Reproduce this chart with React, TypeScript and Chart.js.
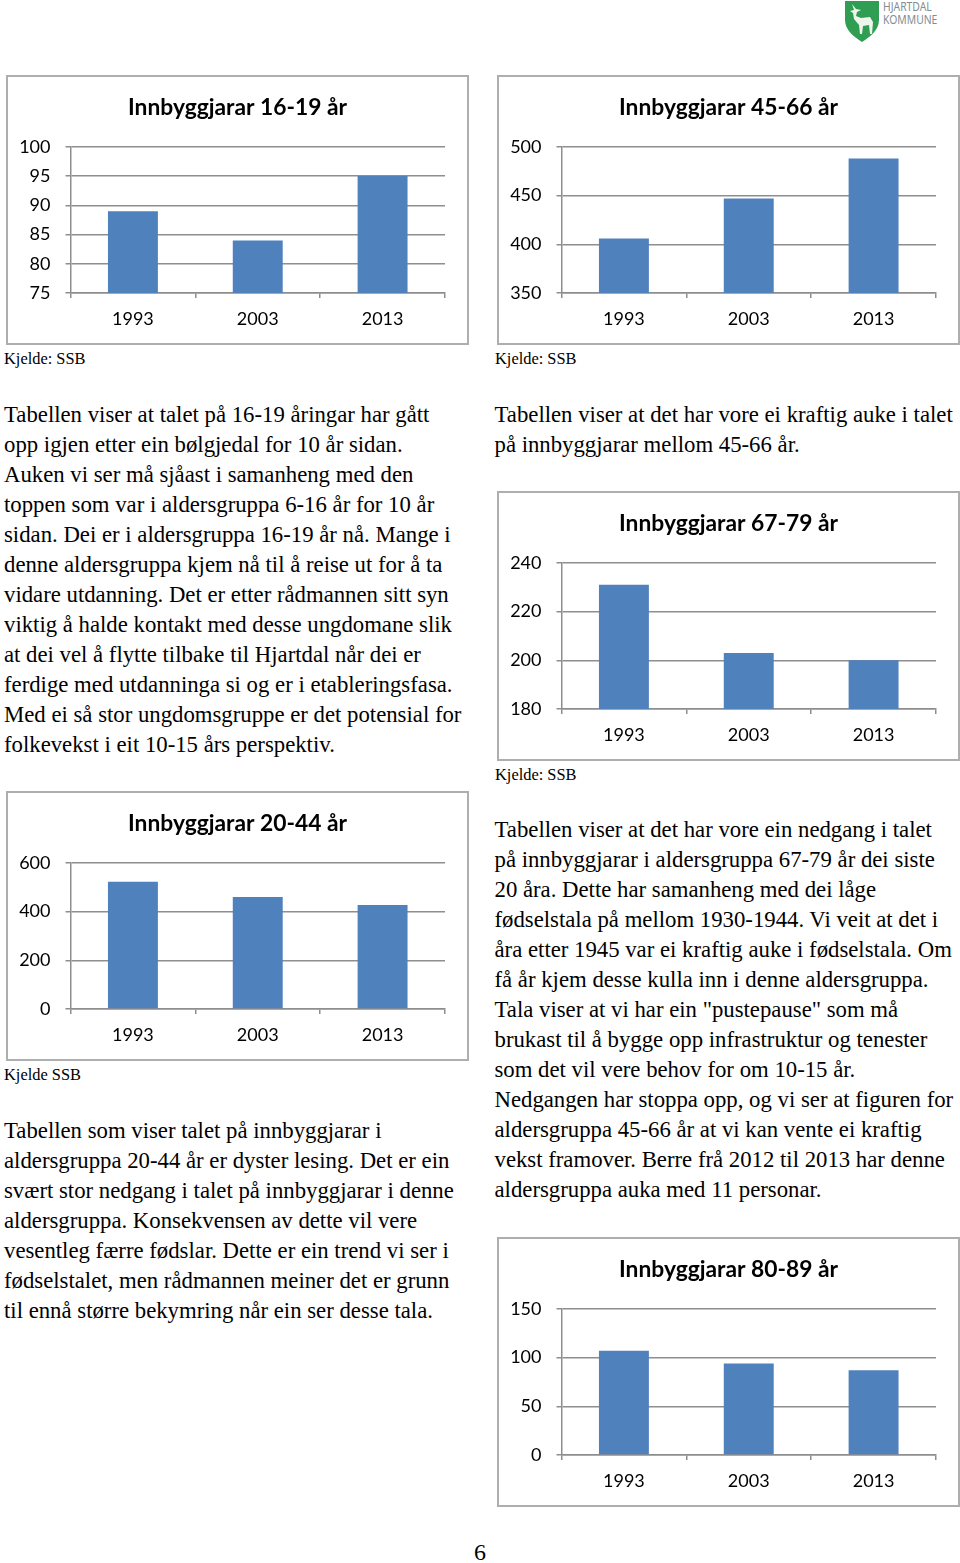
import React, { useEffect, useRef } from "react";
import { Chart, registerables } from "chart.js";

Chart.register(...registerables);

const years = ["1993", "2003", "2013"];

const values1619 = [89, 84, 95];
const values4566 = [406, 447, 488];
const values6779 = [231, 203, 200];
const values2044 = [522, 460, 427];
const values8089 = [107, 94, 87];

const text1 = [
  "Tabellen viser at talet på 16-19 åringar har gått",
  "opp igjen etter ein bølgjedal for 10 år sidan.",
  "Auken vi ser må sjåast i samanheng med den",
  "toppen som var i aldersgruppa 6-16 år for 10 år",
  "sidan. Dei er i aldersgruppa 16-19 år nå. Mange i",
  "denne aldersgruppa kjem nå til å reise ut for å ta",
  "vidare utdanning. Det er etter rådmannen sitt syn",
  "viktig å halde kontakt med desse ungdomane slik",
  "at dei vel å flytte tilbake til Hjartdal når dei er",
  "ferdige med utdanninga si og er i etableringsfasa.",
  "Med ei så stor ungdomsgruppe er det potensial for",
  "folkevekst i eit 10-15 års perspektiv.",
];
const text2 = [
  "Tabellen viser at det har vore ei kraftig auke i talet",
  "på innbyggjarar mellom 45-66 år.",
];
const text3 = [
  "Tabellen viser at det har vore ein nedgang i talet",
  "på innbyggjarar i aldersgruppa 67-79 år dei siste",
  "20 åra. Dette har samanheng med dei låge",
  "fødselstala på mellom 1930-1944. Vi veit at det i",
  "åra etter 1945 var ei kraftig auke i fødselstala. Om",
  "få år kjem desse kulla inn i denne aldersgruppa.",
  "Tala viser at vi har ein \"pustepause\" som må",
  "brukast til å bygge opp infrastruktur og tenester",
  "som det vil vere behov for om 10-15 år.",
  "Nedgangen har stoppa opp, og vi ser at figuren for",
  "aldersgruppa 45-66 år at vi kan vente ei kraftig",
  "vekst framover. Berre frå 2012 til 2013 har denne",
  "aldersgruppa auka med 11 personar.",
];
const text4 = [
  "Tabellen som viser talet på innbyggjarar i",
  "aldersgruppa 20-44 år er dyster lesing. Det er ein",
  "svært stor nedgang i talet på innbyggjarar i denne",
  "aldersgruppa. Konsekvensen av dette vil vere",
  "vesentleg færre fødslar. Dette er ein trend vi ser i",
  "fødselstalet, men rådmannen meiner det er grunn",
  "til ennå større bekymring når ein ser desse tala.",
];

const GRID = "#8e8e8e";
const BAR = "#4f81bd";

function MiniChart(props: {
  left: number;
  top: number;
  title: string;
  values: number[];
  min: number;
  max: number;
  step: number;
}) {
  const ref = useRef<HTMLCanvasElement>(null);
  useEffect(() => {
    const chart = new Chart(ref.current!, {
      type: "bar",
      data: {
        labels: years,
        datasets: [
          {
            data: props.values,
            backgroundColor: BAR,
            borderWidth: 0,
            barPercentage: 0.4,
            categoryPercentage: 1,
          },
        ],
      },
      options: {
        animation: false,
        responsive: false,
        layout: { padding: 0 },
        plugins: {
          legend: { display: false },
          tooltip: { enabled: false },
          title: {
            display: true,
            text: props.title,
            color: "#000",
            font: { family: "Lato", size: 22.8, weight: "bold", lineHeight: 1.2 },
            padding: { top: 18.5, bottom: 26 },
          },
        },
        scales: {
          x: {
            afterFit: (s: any) => {
              s.height = 52;
            },
            border: { color: GRID, width: 1.5 },
            grid: {
              offset: true,
              drawOnChartArea: false,
              drawTicks: true,
              tickLength: 5,
              color: GRID,
              lineWidth: 1.5,
            },
            ticks: {
              color: "#000",
              font: { family: "Lato", size: 18 },
              padding: 10,
              maxRotation: 0,
            },
          },
          y: {
            min: props.min,
            max: props.max,
            afterFit: (s: any) => {
              s.width = 64.5;
            },
            border: { color: GRID, width: 1.5 },
            grid: { color: GRID, lineWidth: 1.5, tickLength: 5 },
            ticks: {
              stepSize: props.step,
              color: "#000",
              font: { family: "Lato", size: 18 },
              padding: 15,
            },
          },
          spacer: {
            type: "linear",
            position: "right",
            afterFit: (s: any) => {
              s.width = 24;
            },
            border: { display: false },
            grid: { display: false },
            ticks: { display: false },
          },
        },
      },
    });
    return () => chart.destroy();
  }, []);
  return (
    <div style={{ position: "absolute", left: props.left, top: props.top, width: 463, height: 270 }}>
      <canvas ref={ref} width={463} height={270} style={{ position: "absolute", left: 0, top: 0 }} />
      <div
        style={{
          position: "absolute",
          inset: 0,
          boxSizing: "border-box",
          border: "2px solid #aeaeae",
        }}
      />
    </div>
  );
}

function Lines(props: { left: number; top: number; lines: string[] }) {
  return (
    <div
      style={{
        position: "absolute",
        left: props.left,
        top: props.top,
        fontFamily: "'Liberation Serif'",
        fontSize: 22.75,
        lineHeight: "30.02px",
        color: "#000",
        whiteSpace: "pre",
      }}
    >
      {props.lines.map((l, i) => (
        <div key={i}>{l}</div>
      ))}
    </div>
  );
}

function Source(props: { left: number; top: number; text: string }) {
  return (
    <div
      style={{
        position: "absolute",
        left: props.left,
        top: props.top,
        fontFamily: "'Liberation Serif'",
        fontSize: 16.4,
        lineHeight: "20px",
        color: "#000",
        whiteSpace: "pre",
      }}
    >
      {props.text}
    </div>
  );
}

function Logo() {
  return (
    <div style={{ position: "absolute", left: 844, top: 0, width: 100, height: 44 }}>
      <svg width={36} height={42} style={{ position: "absolute", left: 0, top: 0 }} viewBox="0 0 36 42">
        <path d="M1 1 H35 V20 C35 30 26 37 18 42 C10 37 1 30 1 20 Z" fill="#2f9e53" />
        <path
          d="M8 4 L12 9 L17 10 L13 12 L12 16 L17 18 L26 17 L29 22 L28 34 L26 34 L25 25 L19 26 L18 34 L16 34 L15 25 L10 19 L9 13 L6 11 L10 10 Z"
          fill="#eef6ec"
        />
      </svg>
      <div
        style={{
          position: "absolute",
          left: 39,
          top: 0,
          fontFamily: "'Noto Sans'",
          fontSize: 12.5,
          lineHeight: "13px",
          color: "#858c90",
          whiteSpace: "pre",
          transform: "scaleX(0.83)",
          transformOrigin: "left top",
        }}
      >
        <div>HJARTDAL</div>
        <div>KOMMUNE</div>
      </div>
    </div>
  );
}

export default function App() {
  return (
    <div style={{ position: "absolute", left: 0, top: 0, width: 960, height: 1563, background: "#fff", overflow: "hidden" }}>
      <Logo />
      <MiniChart left={6} top={75} title="Innbyggjarar 16-19 år" values={values1619} min={75} max={100} step={5} />
      <MiniChart left={497} top={75} title="Innbyggjarar 45-66 år" values={values4566} min={350} max={500} step={50} />
      <MiniChart left={497} top={491} title="Innbyggjarar 67-79 år" values={values6779} min={180} max={240} step={20} />
      <MiniChart left={6} top={791} title="Innbyggjarar 20-44 år" values={values2044} min={0} max={600} step={200} />
      <MiniChart left={497} top={1237} title="Innbyggjarar 80-89 år" values={values8089} min={0} max={150} step={50} />
      <Source left={4} top={349} text="Kjelde: SSB" />
      <Source left={495} top={349} text="Kjelde: SSB" />
      <Source left={495} top={765} text="Kjelde: SSB" />
      <Source left={4} top={1065} text="Kjelde SSB" />
      <Lines left={4} top={399.5} lines={text1} />
      <Lines left={494.5} top={399.5} lines={text2} />
      <Lines left={494.5} top={814.5} lines={text3} />
      <Lines left={4} top={1115.5} lines={text4} />
      <div
        style={{
          position: "absolute",
          left: 474,
          top: 1538,
          fontFamily: "'Liberation Serif'",
          fontSize: 24,
          lineHeight: "28px",
          color: "#000",
        }}
      >
        6
      </div>
    </div>
  );
}
